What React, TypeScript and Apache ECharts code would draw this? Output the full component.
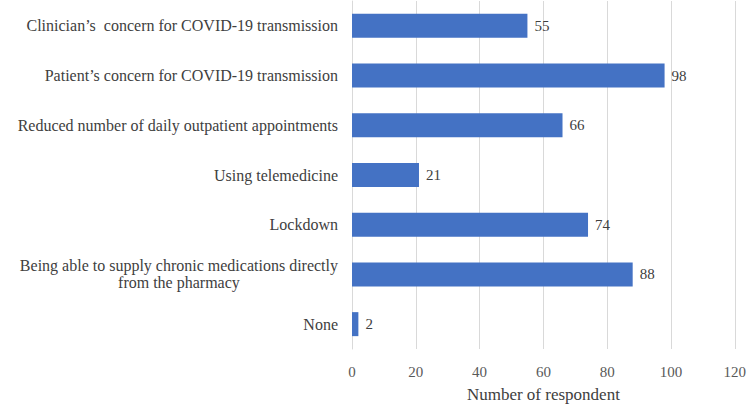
import React, { useEffect, useRef } from "react";
import * as echarts from "echarts";

const categories = [
  "Clinician\u2019s  concern for COVID-19 transmission",
  "Patient\u2019s concern for COVID-19 transmission",
  "Reduced number of daily outpatient appointments",
  "Using telemedicine",
  "Lockdown",
  "Being able to supply chronic medications directly\nfrom the pharmacy",
  "None",
];
const values = [55, 98, 66, 21, 74, 88, 2];
const xTicks = { min: 0, max: 120, interval: 20 };
const xTitle = "Number of respondent";

const FONT = "Times New Roman, Liberation Serif, DejaVu Serif, serif";

export default function App() {
  const ref = useRef<HTMLDivElement>(null);
  useEffect(() => {
    document.body.style.margin = "0";
    const chart = echarts.init(ref.current!, null, { renderer: "svg" });
    chart.setOption({
      animation: false,
      textStyle: { fontFamily: FONT },
      grid: { left: 352, right: 12, top: 1, bottom: 56 },
      xAxis: {
        type: "value",
        min: xTicks.min,
        max: xTicks.max,
        interval: xTicks.interval,
        axisLine: { show: false },
        axisTick: { show: false },
        splitLine: { lineStyle: { color: "#d9d9d9", width: 1 } },
        axisLabel: { color: "#595959", fontSize: 15, fontFamily: FONT, margin: 15 },
        name: xTitle,
        nameLocation: "middle",
        nameGap: 37,
        nameTextStyle: { color: "#404040", fontSize: 17, fontFamily: FONT },
      },
      yAxis: {
        type: "category",
        inverse: true,
        data: categories,
        axisLine: { show: true, lineStyle: { color: "#d9d9d9" } },
        axisTick: { show: false },
        axisLabel: {
          color: "#404040",
          fontSize: 16,
          fontFamily: FONT,
          margin: 14,
          lineHeight: 17,
          formatter: (v: string) =>
            v
              .split("\n")
              .map((s) => "{c|" + s + "}")
              .join("\n"),
          rich: {
            c: { align: "center", fontSize: 16, fontFamily: FONT, color: "#404040", lineHeight: 17 },
          },
        },
      },
      series: [
        {
          type: "bar",
          data: values,
          barWidth: 24,
          itemStyle: { color: "#4472C4" },
          label: {
            show: true,
            position: "right",
            distance: 7,
            color: "#404040",
            fontSize: 15,
            fontFamily: FONT,
          },
        },
      ],
    });
    return () => chart.dispose();
  }, []);
  return <div ref={ref} style={{ width: 749, height: 408 }} />;
}
